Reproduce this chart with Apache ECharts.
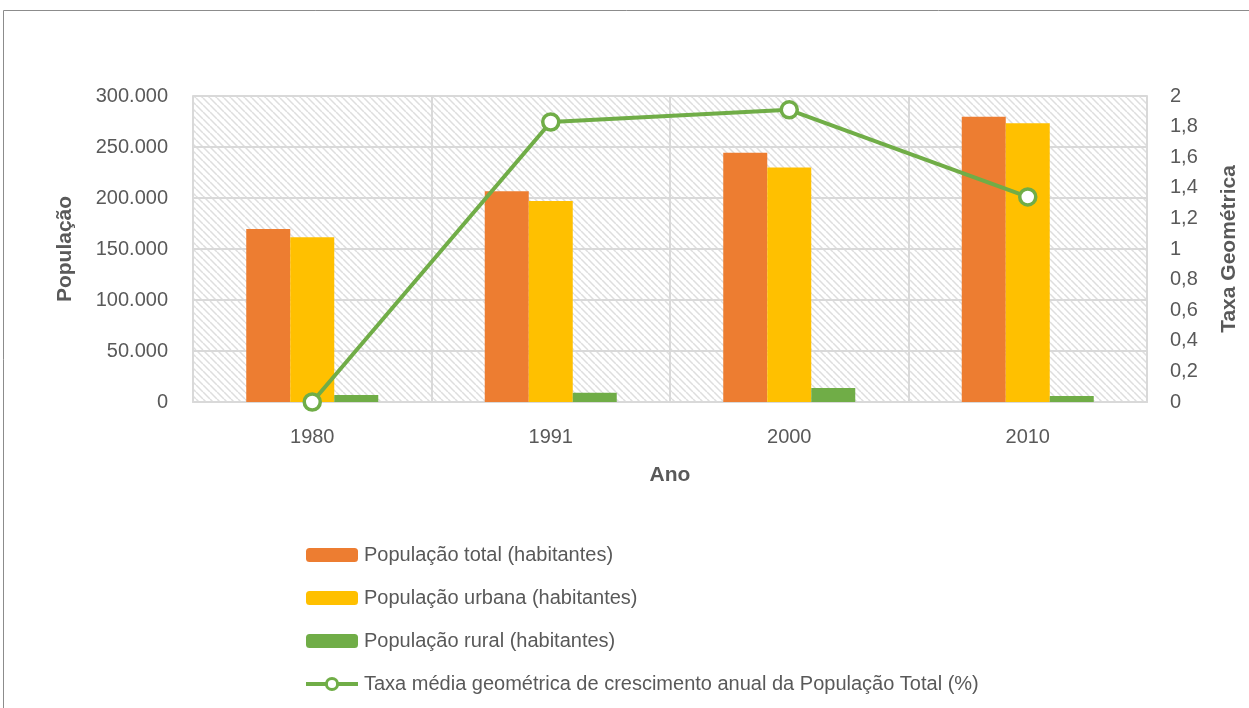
<!DOCTYPE html>
<html>
<head>
<meta charset="utf-8">
<script src="https://cdn.jsdelivr.net/npm/echarts@6/dist/echarts.min.js"></script>
<style>
  html, body { margin: 0; padding: 0; background: #ffffff; }
  #chart { width: 1249px; height: 708px; }
</style>
</head>
<body>
<div id="chart"></div>
<script>
// Census years and population figures
const anos = ['1980', '1991', '2000', '2010'];
const popTotal = [169600, 206500, 244400, 279700];
const popUrbana = [161500, 197000, 230000, 273200];
const popRural = [6900, 9100, 13700, 5900];
const taxaGeometrica = [0, 1.83, 1.91, 1.34];

const nomesSeries = [
  'População total (habitantes)',
  'População urbana (habitantes)',
  'População rural (habitantes)',
  'Taxa média geométrica de crescimento anual da População Total (%)'
];

const FONT = '"Liberation Sans Narrow", "Arial Narrow", "Liberation Sans", Arial, sans-serif';
const TXT = '#595959';
const VERDE = '#70AD47';

// Diagonal hatch fill for the plot area
function hatch() {
  const c = document.createElement('canvas');
  c.width = 7; c.height = 7;
  const g = c.getContext('2d');
  g.fillStyle = '#ffffff';
  g.fillRect(0, 0, 7, 7);
  g.strokeStyle = '#dedede';
  g.lineWidth = 1.5;
  for (let o = -7; o <= 7; o += 7) {
    g.beginPath();
    g.moveTo(o, 0);
    g.lineTo(o + 7, 7);
    g.stroke();
  }
  return c;
}

function milhar(v) {
  return String(v).replace(/\B(?=(\d{3})+(?!\d))/g, '.');
}

const chart = echarts.init(document.getElementById('chart'), null, { renderer: 'canvas' });

chart.setOption({
  animation: false,
  backgroundColor: '#ffffff',
  textStyle: { fontFamily: FONT },
  graphic: [{
    type: 'rect',
    shape: { x: 3.5, y: 10.5, width: 1300, height: 760 },
    style: { fill: 'none', stroke: '#8c8c8c', lineWidth: 1 },
    silent: true
  }],
  grid: {
    left: 193, right: 102, top: 96, height: 306,
    show: true,
    backgroundColor: { image: hatch(), repeat: 'repeat' },
    borderWidth: 0
  },
  legend: {
    orient: 'vertical',
    left: 299, top: 540,
    itemWidth: 52, itemHeight: 14,
    itemGap: 23,
    textStyle: { fontFamily: FONT, fontSize: 20, color: TXT, padding: [0, 0, 0, 1] },
    data: [
      nomesSeries[0],
      nomesSeries[1],
      nomesSeries[2],
      {
        name: nomesSeries[3],
        lineStyle: { width: 4, color: VERDE },
        itemStyle: { color: '#ffffff', borderColor: VERDE, borderWidth: 3 }
      }
    ]
  },
  xAxis: {
    type: 'category',
    data: anos,
    name: 'Ano',
    nameLocation: 'middle',
    nameGap: 63,
    nameTextStyle: { fontFamily: FONT, fontSize: 21, fontWeight: 'bold', color: TXT },
    axisLine: { lineStyle: { color: '#d9d9d9', width: 2 } },
    axisTick: { show: false },
    axisLabel: { fontSize: 20, color: TXT, margin: 25 },
    splitLine: { show: true, lineStyle: { color: '#d9d9d9', width: 2 } }
  },
  yAxis: [{
    type: 'value',
    min: 0, max: 300000, interval: 50000,
    name: 'População',
    nameLocation: 'middle',
    nameGap: 117,
    nameRotate: 90,
    nameTextStyle: { fontFamily: FONT, fontSize: 21, fontWeight: 'bold', color: TXT },
    axisLine: { show: true, lineStyle: { color: '#d9d9d9', width: 2 } },
    axisTick: { show: false },
    axisLabel: { fontSize: 20, color: TXT, margin: 25, formatter: milhar },
    splitLine: { show: true, lineStyle: { color: '#d9d9d9', width: 2 } }
  }, {
    type: 'value',
    min: 0, max: 2, interval: 0.2,
    name: 'Taxa Geométrica',
    nameLocation: 'middle',
    nameGap: 72,
    nameRotate: 90,
    nameTextStyle: { fontFamily: FONT, fontSize: 21, fontWeight: 'bold', color: TXT },
    axisLine: { show: true, lineStyle: { color: '#d9d9d9', width: 2 } },
    axisTick: { show: false },
    axisLabel: {
      fontSize: 20, color: TXT, margin: 23,
      formatter: v => String(Math.round(v * 10) / 10).replace('.', ',')
    },
    splitLine: { show: false }
  }],
  series: [{
    name: nomesSeries[0], type: 'bar', data: popTotal,
    barWidth: 44, barGap: '0%',
    itemStyle: { color: '#ED7D31' }
  }, {
    name: nomesSeries[1], type: 'bar', data: popUrbana,
    barWidth: 44, barGap: '0%',
    itemStyle: { color: '#FFC000' }
  }, {
    name: nomesSeries[2], type: 'bar', data: popRural,
    barWidth: 44, barGap: '0%',
    itemStyle: { color: VERDE }
  }, {
    name: nomesSeries[3], type: 'line', yAxisIndex: 1, data: taxaGeometrica,
    symbol: 'circle', symbolSize: 16,
    showAllSymbol: true,
    lineStyle: { color: VERDE, width: 4 },
    itemStyle: { color: '#ffffff', borderColor: VERDE, borderWidth: 3.5 },
    z: 5
  }]
});
</script>
</body>
</html>
